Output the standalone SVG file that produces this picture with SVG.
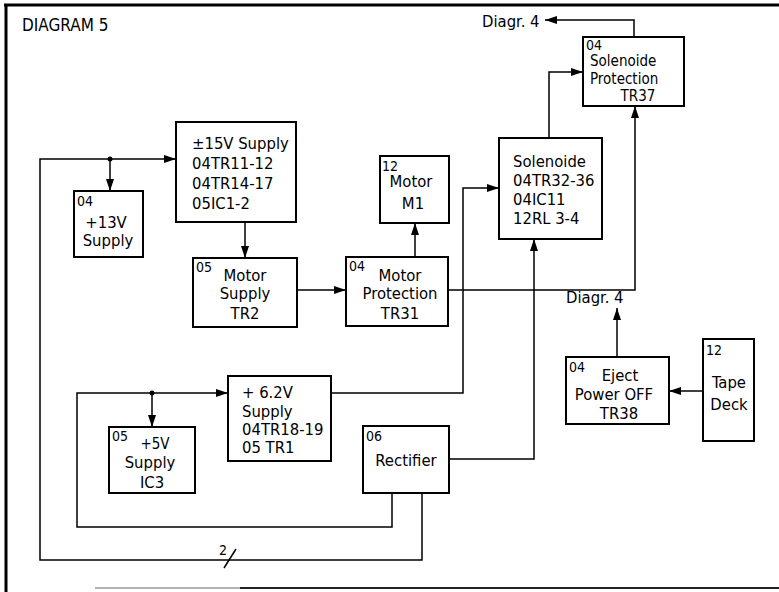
<svg xmlns="http://www.w3.org/2000/svg" width="779" height="592" viewBox="0 0 779 592">
<defs>
<marker id="ah" viewBox="0 0 12 8" refX="12" refY="4" markerWidth="12" markerHeight="8" markerUnits="userSpaceOnUse" orient="auto">
<path d="M0,0 L12,4 L0,8 Z" fill="#000"/>
</marker>
<style>
.box{fill:#fff;stroke:#000;stroke-width:2}
.ln{fill:none;stroke:#000;stroke-width:1.5}
.t{font-family:"DejaVu Sans Condensed","DejaVu Sans",sans-serif;font-size:16.5px;fill:#000}
.s{font-size:15px}
.n{font-family:"DejaVu Sans Condensed","DejaVu Sans",sans-serif;font-size:14px;fill:#000}
.c{text-anchor:middle}
</style>
</defs>
<rect width="779" height="592" fill="#fff"/>
<g id="frame">
<line x1="4" y1="5" x2="779" y2="5" stroke="#000" stroke-width="3"/>
<line x1="6" y1="4" x2="6" y2="592" stroke="#000" stroke-width="3"/>
<line x1="95" y1="588" x2="240" y2="588" stroke="#999" stroke-width="1.5"/>
<line x1="240" y1="588" x2="779" y2="588" stroke="#222" stroke-width="2"/>
<text class="t" x="22" y="31" style="font-size:17px">DIAGRAM 5</text>
</g>
<g id="connectors">
<polyline class="ln" points="422,493 422,560 40,560 40,159 176,159" marker-end="url(#ah)"/>
<line class="ln" x1="110" y1="159" x2="110" y2="191" marker-end="url(#ah)"/>
<circle cx="110" cy="159" r="2.5" fill="#000"/>
<line class="ln" x1="245" y1="222" x2="245" y2="258" marker-end="url(#ah)"/>
<line class="ln" x1="297" y1="290" x2="346" y2="290" marker-end="url(#ah)"/>
<line class="ln" x1="415" y1="257" x2="415" y2="223" marker-end="url(#ah)"/>
<polyline class="ln" points="448,290 635,290 635,106" marker-end="url(#ah)"/>
<polyline class="ln" points="392,493 392,527 77,527 77,393 228,393" marker-end="url(#ah)"/>
<line class="ln" x1="152" y1="393" x2="152" y2="427" marker-end="url(#ah)"/>
<circle cx="152" cy="393" r="2.5" fill="#000"/>
<polyline class="ln" points="331,393 463,393 463,188 499,188" marker-end="url(#ah)"/>
<polyline class="ln" points="449,459 534,459 534,239" marker-end="url(#ah)"/>
<polyline class="ln" points="549,138 549,72 583,72" marker-end="url(#ah)"/>
<polyline class="ln" points="634,37 634,20 545,20" marker-end="url(#ah)"/>
<line class="ln" x1="617" y1="357" x2="617" y2="308" marker-end="url(#ah)"/>
<line class="ln" x1="703" y1="391" x2="669" y2="391" marker-end="url(#ah)"/>
<line class="ln" x1="224" y1="568" x2="236" y2="549"/>
<text class="n" x="219" y="555">2</text>
<text class="t" x="482" y="27">Diagr. 4</text>
<text class="t" x="566" y="303">Diagr. 4</text>
</g>
<g id="supply15">
<rect class="box" x="176" y="122" width="120" height="100"/>
<text class="t" x="192" y="149">±15V Supply</text>
<text class="t" x="192" y="169">04TR11-12</text>
<text class="t" x="192" y="189">04TR14-17</text>
<text class="t" x="192" y="209">05IC1-2</text>
</g>
<g id="supply13">
<rect class="box" x="74" y="191" width="69" height="66"/>
<text class="n" x="77" y="206">04</text>
<text class="t c" x="106" y="228">+13V</text>
<text class="t c" x="108" y="246">Supply</text>
</g>
<g id="motorsupply">
<rect class="box" x="193" y="258" width="104" height="69"/>
<text class="n" x="196" y="272">05</text>
<text class="t c" x="245" y="281">Motor</text>
<text class="t c" x="245" y="299">Supply</text>
<text class="t c" x="245" y="319">TR2</text>
</g>
<g id="motorprot">
<rect class="box" x="346" y="257" width="102" height="69"/>
<text class="n" x="349" y="271">04</text>
<text class="t c" x="400" y="281">Motor</text>
<text class="t c" x="400" y="299">Protection</text>
<text class="t c" x="400" y="319">TR31</text>
</g>
<g id="motor">
<rect class="box" x="380" y="156" width="69" height="67"/>
<text class="n" x="382" y="171">12</text>
<text class="t c" x="411" y="187">Motor</text>
<text class="t c" x="413" y="209">M1</text>
</g>
<g id="solenoide">
<rect class="box" x="499" y="138" width="103" height="101"/>
<text class="t" x="513" y="167">Solenoide</text>
<text class="t" x="513" y="186">04TR32-36</text>
<text class="t" x="513" y="205">04IC11</text>
<text class="t" x="513" y="224">12RL 3-4</text>
</g>
<g id="solprot">
<rect class="box" x="583" y="37" width="101" height="69"/>
<text class="n" x="586" y="50">04</text>
<text class="t s" x="590" y="66">Solenoide</text>
<text class="t s" x="590" y="84">Protection</text>
<text class="t s c" x="638" y="101">TR37</text>
</g>
<g id="supply62">
<rect class="box" x="228" y="376" width="103" height="85"/>
<text class="t" x="242" y="398">+ 6.2V</text>
<text class="t" x="242" y="417">Supply</text>
<text class="t" x="242" y="435">04TR18-19</text>
<text class="t" x="242" y="453">05 TR1</text>
</g>
<g id="supply5">
<rect class="box" x="109" y="427" width="86" height="66"/>
<text class="n" x="112" y="441">05</text>
<text class="t s c" x="155" y="449">+5V</text>
<text class="t c" x="150" y="468">Supply</text>
<text class="t c" x="152" y="488">IC3</text>
</g>
<g id="rectifier">
<rect class="box" x="363" y="426" width="86" height="67"/>
<text class="n" x="366" y="441">06</text>
<text class="t c" x="406" y="466">Rectifier</text>
</g>
<g id="eject">
<rect class="box" x="566" y="357" width="103" height="67"/>
<text class="n" x="569" y="372">04</text>
<text class="t c" x="620" y="381">Eject</text>
<text class="t c" x="614" y="400">Power OFF</text>
<text class="t c" x="619" y="419">TR38</text>
</g>
<g id="tapedeck">
<rect class="box" x="703" y="339" width="51" height="102"/>
<text class="n" x="706" y="355">12</text>
<text class="t c" x="729" y="388">Tape</text>
<text class="t c" x="729" y="410">Deck</text>
</g>
</svg>
